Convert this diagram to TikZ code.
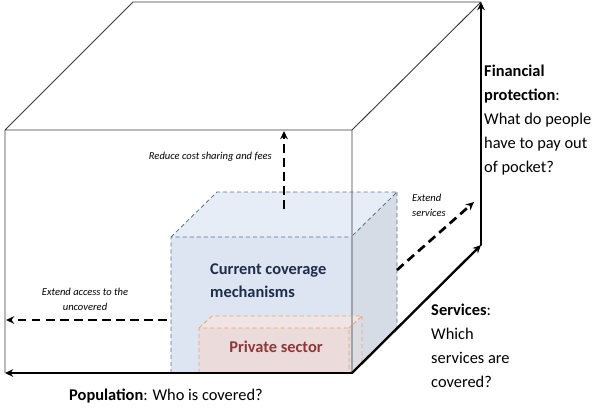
\documentclass[tikz,border=0pt]{standalone}
\usepackage{fontspec}
\setmainfont{Carlito}
\usetikzlibrary{arrows.meta}
\definecolor{edgegray}{HTML}{3A3A3A}
\definecolor{covline}{HTML}{5B7393}
\definecolor{covfront}{HTML}{DCE5F1}
\definecolor{covtop}{HTML}{E6EDF6}
\definecolor{covside}{HTML}{D5DCE6}
\definecolor{covtext}{HTML}{1F2D4A}
\definecolor{privline}{HTML}{EFA26E}
\definecolor{privfront}{HTML}{EBDBDB}
\definecolor{privtop}{HTML}{F0E4E5}
\definecolor{privside}{HTML}{DCDCE3}
\definecolor{privtext}{HTML}{8E3838}
\begin{document}
\begin{tikzpicture}[x=0.03cm, y=-0.03cm, >={Stealth[length=7pt,width=6.5pt]}, font=\fontsize{14}{20.4}\selectfont, line join=round, line cap=round,
	edge/.style={draw=edgegray, line width=0.8pt},
	axis/.style={->, line width=2pt},
	ext/.style={->, line width=2.3pt, dash pattern=on 7.5pt off 4.5pt, line cap=butt},
	covdash/.style={draw=covline, line width=0.7pt, dash pattern=on 3.5pt off 2.5pt, line cap=butt},
	privdash/.style={draw=privline, line width=0.7pt, dash pattern=on 3.5pt off 2.5pt, line cap=butt},
	note/.style={font=\fontsize{9}{12.7}\selectfont\itshape, inner sep=0pt}]
	\useasboundingbox (0,0) rectangle (600,407);
	%Đỉnh của khối lớn
	\path 
	(5,130) coordinate (A)
	(352,130) coordinate (B)
	(352,373) coordinate (C)
	(5,373) coordinate (D)
	(133,2) coordinate (E)
	(481,2) coordinate (F)
	(481,245) coordinate (G)
	;
	%Khối bảo hiểm hiện tại
	\path 
	(171,237) coordinate (Q_1)
	(351,237) coordinate (Q_2)
	(351,373) coordinate (Q_3)
	(171,373) coordinate (Q_4)
	(217,192) coordinate (Q_5)
	(397,192) coordinate (Q_6)
	(397,328) coordinate (Q_7)
	;
	%Khối tư nhân
	\path 
	(199,328) coordinate (P_1)
	(349,328) coordinate (P_2)
	(349,373) coordinate (P_3)
	(199,373) coordinate (P_4)
	(212,316) coordinate (P_5)
	(362,316) coordinate (P_6)
	(362,363) coordinate (P_7)
	;
	\fill[covtop] (Q_1)--(Q_5)--(Q_6)--(Q_2)--cycle;
	\fill[covside] (Q_2)--(Q_6)--(Q_7)--(Q_3)--cycle;
	\fill[covfront] (Q_1)--(Q_2)--(Q_3)--(Q_4)--cycle;
	\fill[privtop] (P_1)--(P_5)--(P_6)--(P_2)--cycle;
	\fill[privside] (P_2)--(P_6)--(P_7)--(P_3)--cycle;
	\fill[privfront] (P_1)--(P_2)--(P_3)--(P_4)--cycle;
	\draw[edge] (D)--(A)--(B)--(C) (A)--(E)--(F) (B)--(F);
	\draw[covdash] (Q_4)--(Q_1)--(Q_2) (Q_1)--(Q_5)--(Q_6)--(Q_2) (Q_6)--(Q_7);
	\draw[privdash] (P_4)--(P_1)--(P_2)--(P_3) (P_1)--(P_5)--(P_6)--(P_2) (P_6)--(P_7);
	\draw[axis] (C)--(D);
	\draw[axis] (C)--(G);
	\draw[axis] (G)--(F);
	%Mũi tên nét đứt
	\path 
	(284,209) coordinate (fee_0) 
	(284,131) coordinate (fee_1)
	(167,320) coordinate (acc_0) 
	(6,320) coordinate (acc_1)
	(397,270) coordinate (srv_0) 
	(474,202) coordinate (srv_1)
	;
	\draw[ext] (fee_0)--(fee_1);
	\draw[ext] (acc_0)--(acc_1);
	\draw[ext] (srv_0)--(srv_1);
	\node[note, anchor=east] (feelbl) at (272,157) {Reduce cost sharing and fees};
	\node[note, align=center] (acclbl) at (85,299) {Extend access to the\\uncovered};
	\node[note, align=left, anchor=north west] (srvlbl) at (412,194) {Extend\\services};
	\node[inner sep=0pt, align=left, anchor=north west, text=covtext, font=\fontsize{14}{20.4}\selectfont\bfseries] (cov) at (210,263) {Current coverage\\mechanisms};
	\node[inner sep=0pt, text=privtext, font=\fontsize{14}{20.4}\selectfont\bfseries] (priv) at (276,347) {Private sector};
	\node[inner sep=0pt, align=left, anchor=north west] (fin) at (484,65) {\textbf{Financial}\\\textbf{protection}:\\What do people\\have to pay out\\of pocket?};
	\node[inner sep=0pt, align=left, anchor=north west] (serv) at (431,304) {\textbf{Services}:\\Which\\services are\\covered?};
	\node[inner sep=0pt, anchor=base west] (pop) at (69,400) {\textbf{Population}: Who is covered?};
\end{tikzpicture}
\end{document}
